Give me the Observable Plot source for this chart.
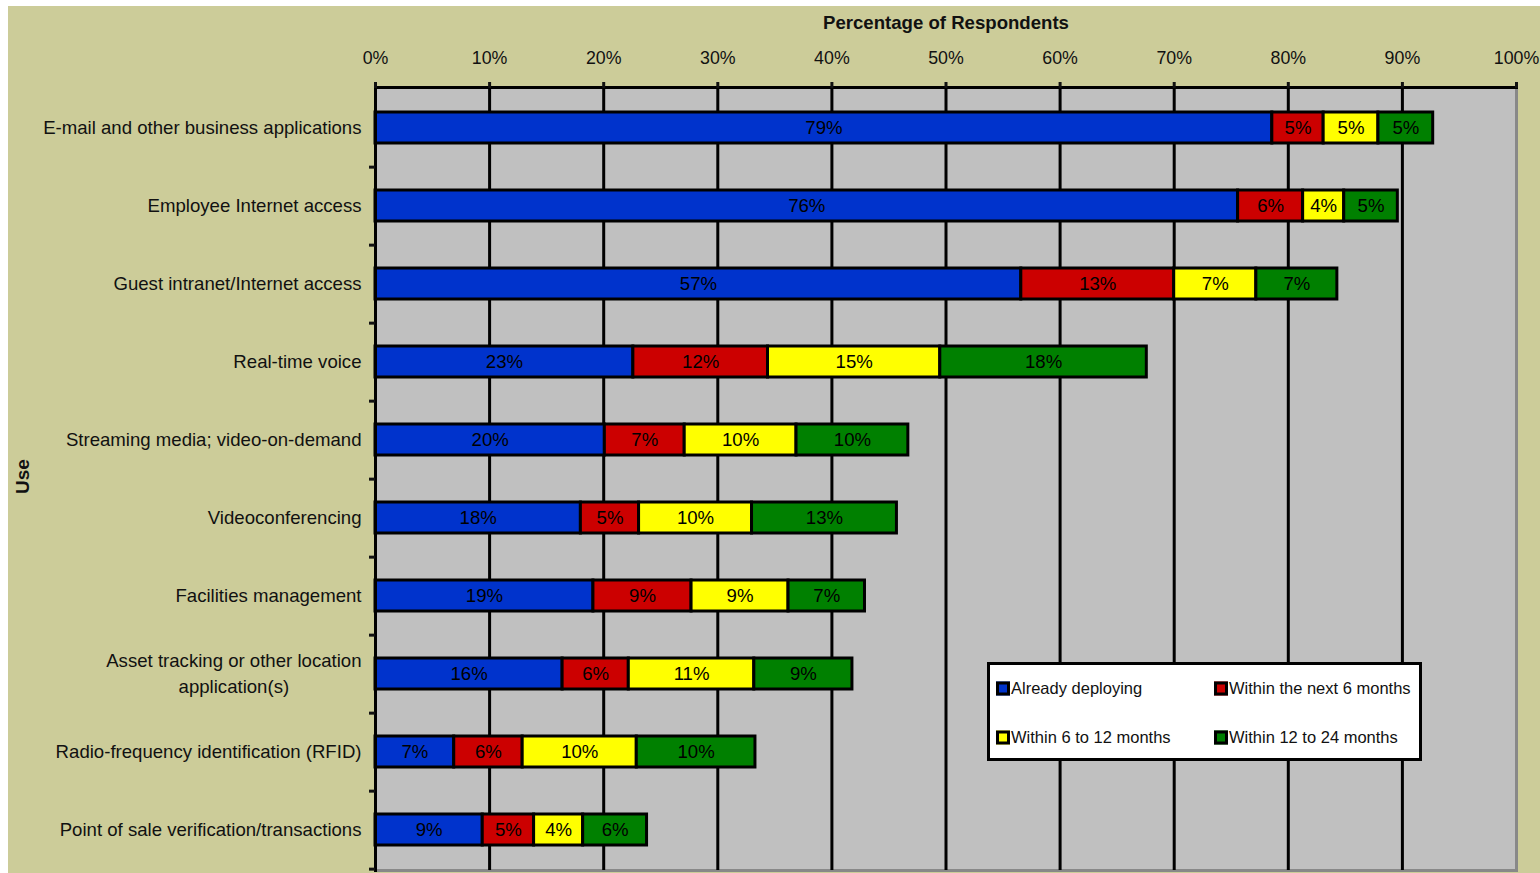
<!DOCTYPE html>
<html>
<head>
<meta charset="utf-8">
<script src="https://cdn.jsdelivr.net/npm/d3@7"></script>
<script src="https://cdn.jsdelivr.net/npm/@observablehq/plot@0.6"></script>
<style>
  html, body { margin: 0; padding: 0; background: #ffffff; }
  #wrap { position: absolute; left: 8px; top: 6px; width: 1532px; height: 867px; background: #CCCC99; overflow: hidden; }
  #legend { position: absolute; left: 979px; top: 656px; width: 435px; height: 99px; box-sizing: border-box;
            background: #ffffff; border: 3px solid #000; font-family: "Liberation Sans", Arial, sans-serif; font-size: 16.5px; color: #111; }
  .item { position: absolute; display: flex; align-items: center; transform: translateY(-50%); white-space: nowrap; }
  .sw { width: 8px; height: 8px; border: 3px solid #000; margin-right: 1px; }
</style>
</head>
<body>
<div id="wrap"><div id="chart"></div><div id="legend"></div></div>
<script>
const uses = [
  "E-mail and other business applications",
  "Employee Internet access",
  "Guest intranet/Internet access",
  "Real-time voice",
  "Streaming media; video-on-demand",
  "Videoconferencing",
  "Facilities management",
  "Asset tracking or other location\napplication(s)",
  "Radio-frequency identification (RFID)",
  "Point of sale verification/transactions"
];
const seriesNames = ["Already deploying", "Within the next 6 months", "Within 6 to 12 months", "Within 12 to 24 months"];
const seriesColors = ["#0033CC", "#CC0000", "#FFFF00", "#008000"];
const alreadyDeploying = [78.6, 75.6, 56.6, 22.6, 20.1, 18.0, 19.1, 16.4, 6.9, 9.4];
const withinNext6 = [4.5, 5.7, 13.4, 11.8, 7.0, 5.1, 8.6, 5.8, 6.0, 4.5];
const within6to12 = [4.8, 3.6, 7.2, 15.1, 9.8, 9.9, 8.5, 11.0, 10.0, 4.3];
const within12to24 = [4.8, 4.7, 7.1, 18.1, 9.8, 12.7, 6.7, 8.6, 10.4, 5.6];
const xTicks = [0, 10, 20, 30, 40, 50, 60, 70, 80, 90, 100];

const seriesValues = [alreadyDeploying, withinNext6, within6to12, within12to24];
const data = [];
seriesNames.forEach((s, i) => uses.forEach((u, j) => data.push({use: u, series: s, value: seriesValues[i][j]})));

const W = 1532, H = 867, mL = 367, mR = 24, mT = 81, mB = 3;
const half = (H - mT - mB) / uses.length / 2;
const font = "Liberation Sans, Arial, sans-serif";

const plot = Plot.plot({
  width: W, height: H,
  marginLeft: mL, marginRight: mR, marginTop: mT, marginBottom: mB,
  style: {background: "transparent", fontFamily: font, fontSize: "17px", color: "#111", overflow: "visible"},
  x: {domain: [0, 100], axis: null},
  y: {domain: uses, paddingInner: 0.6, paddingOuter: 0.3, axis: null},
  color: {domain: seriesNames, range: seriesColors},
  marks: [
    Plot.frame({fill: "#C0C0C0", stroke: "#888888", strokeWidth: 3}),
    Plot.ruleX(xTicks.slice(1, -1), {stroke: "#000", strokeWidth: 3}),
    Plot.barX(data, Plot.stackX({x: "value", y: "use", z: "series", fill: "series", stroke: "#000", strokeWidth: 3})),
    Plot.text(data, Plot.stackX({x: "value", y: "use", z: "series", text: d => Math.round(d.value) + "%", fill: "#000", fontSize: 18.6})),
    Plot.frame({anchor: "top", stroke: "#000", strokeWidth: 3}),
    Plot.frame({anchor: "left", stroke: "#000", strokeWidth: 3}),
    Plot.axisX(xTicks, {anchor: "top", tickFormat: d => d + "%", tickSize: 6, tickPadding: 18, strokeWidth: 3, fontSize: 17.8, fill: "#111", label: null}),
    Plot.axisY({anchor: "left", tickSize: 0, tickPadding: 14, dy: -2, fontSize: 18.6, fill: "#111", lineHeight: 1.4, label: null}),
    Plot.axisY({anchor: "left", tickSize: 6, tickFormat: () => "", dy: half, strokeWidth: 3, label: null}),
    Plot.text(["Percentage of Respondents"], {frameAnchor: "top", dy: -72, fontWeight: "bold", fontSize: 18.6, fill: "#111", text: d => d}),
    Plot.text(["Use"], {frameAnchor: "left", dx: -353, dy: 15, rotate: -90, fontWeight: "bold", fontSize: 19, fill: "#111", text: d => d})
  ]
});
document.getElementById("chart").appendChild(plot);

// centre the second line of multi-line category labels under the first
plot.querySelectorAll("text").forEach(t => {
  const spans = t.querySelectorAll("tspan");
  if (spans.length === 2) {
    const w1 = spans[0].getComputedTextLength(), w2 = spans[1].getComputedTextLength();
    spans[1].setAttribute("x", -(w1 - w2) / 2);
  }
});

// legend inside the plot area
const legend = document.getElementById("legend");
const pos = [[6, 23], [224, 23], [6, 72], [224, 72]];
seriesNames.forEach((s, i) => {
  const it = document.createElement("div");
  it.className = "item";
  it.style.left = pos[i][0] + "px";
  it.style.top = pos[i][1] + "px";
  const sw = document.createElement("div");
  sw.className = "sw";
  sw.style.background = seriesColors[i];
  const tx = document.createElement("span");
  tx.textContent = s;
  it.appendChild(sw); it.appendChild(tx);
  legend.appendChild(it);
});
</script>
</body>
</html>
